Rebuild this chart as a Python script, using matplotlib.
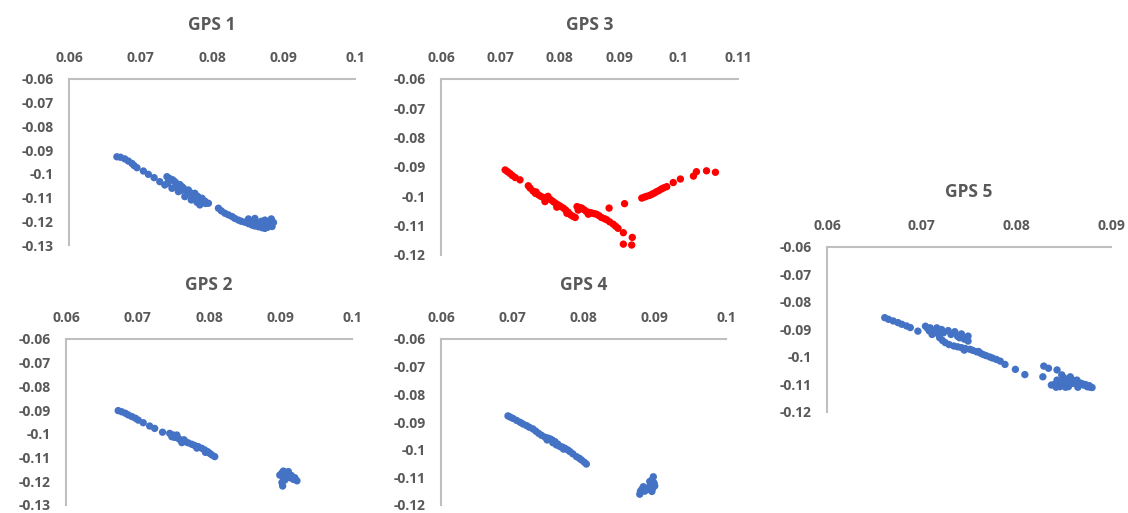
import matplotlib
matplotlib.use("Agg")
from matplotlib import pyplot as plt
from matplotlib.ticker import FuncFormatter

# ---- data (x, y) ----
gps1_x = [0.0667, 0.0672, 0.0678, 0.0683, 0.0688, 0.0691, 0.0695, 0.0704, 0.0711, 0.0719,
          0.0727, 0.0737, 0.0739, 0.0741, 0.0745, 0.0748, 0.0750, 0.0755, 0.0758, 0.0760,
          0.0765, 0.0767, 0.0770, 0.0775, 0.0776, 0.0780, 0.0785, 0.0786, 0.0790, 0.0791,
          0.0795, 0.0783, 0.0779, 0.0771, 0.0766, 0.0762, 0.0757, 0.0753, 0.0749, 0.0744,
          0.0738, 0.0734,
          0.0809, 0.0813, 0.0818, 0.0823, 0.0828, 0.0832, 0.0837, 0.0841, 0.0846, 0.0851,
          0.0856, 0.0860, 0.0865, 0.0870, 0.0874, 0.0878, 0.0883, 0.0883, 0.0874, 0.0860,
          0.0851, 0.0865, 0.0879, 0.0856, 0.0869, 0.0880, 0.0886, 0.0870, 0.0884]
gps1_y = [-0.0928, -0.0930, -0.0937, -0.0946, -0.0956, -0.0965, -0.0974, -0.0988, -0.1002, -0.1016,
          -0.1033, -0.1012, -0.1033, -0.1020, -0.1025, -0.1033, -0.1040, -0.1045, -0.1054, -0.1060,
          -0.1075, -0.1068, -0.1080, -0.1095, -0.1082, -0.1095, -0.1115, -0.1103, -0.1115, -0.1125,
          -0.1124, -0.1131, -0.1120, -0.1110, -0.1085, -0.1096, -0.1070, -0.1075, -0.1055, -0.1061,
          -0.1040, -0.1047,
          -0.1145, -0.1156, -0.1166, -0.1173, -0.1180, -0.1188, -0.1195, -0.1200, -0.1204, -0.1210,
          -0.1216, -0.1220, -0.1223, -0.1227, -0.1230, -0.1225, -0.1216, -0.1190, -0.1195, -0.1188,
          -0.1190, -0.1209, -0.1209, -0.1200, -0.1200, -0.1200, -0.1205, -0.1213, -0.1222]

gps2_x = [0.0673, 0.0678, 0.0683, 0.0687, 0.0692, 0.0697, 0.0701, 0.0708, 0.0717, 0.0724,
          0.0735, 0.0745, 0.0748, 0.0750, 0.0752, 0.0755, 0.0757, 0.0760, 0.0762, 0.0765,
          0.0767, 0.0771, 0.0776, 0.0780, 0.0783, 0.0785, 0.0790, 0.0794, 0.0795, 0.0798,
          0.0801, 0.0804, 0.0808,
          0.0904, 0.0899, 0.0909, 0.0918, 0.0923, 0.0903, 0.0906, 0.0911, 0.0902, 0.0907,
          0.0913, 0.0920, 0.0915, 0.0904, 0.0902]
gps2_y = [-0.0902, -0.0907, -0.0913, -0.0920, -0.0927, -0.0934, -0.0942, -0.0953, -0.0967, -0.0977,
          -0.0993, -0.0998, -0.1012, -0.1005, -0.1015, -0.1005, -0.1019, -0.1026, -0.1037, -0.1025,
          -0.1033, -0.1038, -0.1044, -0.1049, -0.1060, -0.1054, -0.1061, -0.1068, -0.1078, -0.1075,
          -0.1082, -0.1089, -0.1096,
          -0.1157, -0.1174, -0.1181, -0.1192, -0.1198, -0.1220, -0.1195, -0.1159, -0.1165, -0.1170,
          -0.1185, -0.1185, -0.1175, -0.1185, -0.1205]

gps3_x = [0.0708, 0.0712, 0.0716, 0.0720, 0.0725, 0.0733, 0.0747, 0.0750, 0.0755, 0.0759,
          0.0760, 0.0764, 0.0768, 0.0772, 0.0775, 0.0776, 0.0780, 0.0780, 0.0785, 0.0789,
          0.0793, 0.0795, 0.0797, 0.0801, 0.0806, 0.0810, 0.0812, 0.0814, 0.0818, 0.0822,
          0.0826, 0.0829, 0.0831, 0.0833, 0.0837, 0.0841, 0.0845, 0.0848, 0.0850, 0.0854,
          0.0858, 0.0862, 0.0866, 0.0870, 0.0875, 0.0879, 0.0884, 0.0890, 0.0894, 0.0898,
          0.0907, 0.0922, 0.0907, 0.0921, 0.0883, 0.0909, 0.0938, 0.0942, 0.0946, 0.0951,
          0.0955, 0.0959, 0.0963, 0.0967, 0.0971, 0.0975, 0.0980, 0.0991, 0.1003, 0.1025,
          0.1030, 0.1047, 0.1062]
gps3_y = [-0.0910, -0.0916, -0.0922, -0.0929, -0.0936, -0.0944, -0.0964, -0.0972, -0.0982, -0.0990,
          -0.0985, -0.0995, -0.1000, -0.1004, -0.1018, -0.1005, -0.1006, -0.1000, -0.1012, -0.1018,
          -0.1024, -0.1037, -0.1029, -0.1034, -0.1040, -0.1047, -0.1058, -0.1054, -0.1063, -0.1068,
          -0.1072, -0.1035, -0.1047, -0.1038, -0.1040, -0.1046, -0.1052, -0.1061, -0.1055, -0.1057,
          -0.1059, -0.1061, -0.1066, -0.1072, -0.1076, -0.1080, -0.1087, -0.1095, -0.1102, -0.1109,
          -0.1124, -0.1140, -0.1163, -0.1166, -0.1040, -0.1025, -0.1006, -0.1003, -0.1000, -0.0997,
          -0.0993, -0.0989, -0.0984, -0.0980, -0.0975, -0.0971, -0.0967, -0.0953, -0.0941, -0.0931,
          -0.0916, -0.0913, -0.0918]

gps4_x = [0.0694, 0.0697, 0.0701, 0.0706, 0.0711, 0.0715, 0.0720, 0.0724, 0.0729, 0.0733,
          0.0737, 0.0741, 0.0746, 0.0749, 0.0750, 0.0753, 0.0756, 0.0757, 0.0760, 0.0762,
          0.0764, 0.0767, 0.0770, 0.0772, 0.0774, 0.0778, 0.0781, 0.0785, 0.0790, 0.0794,
          0.0797, 0.0801, 0.0804,
          0.0898, 0.0893, 0.0900, 0.0891, 0.0882, 0.0879, 0.0884, 0.0896, 0.0896, 0.0899,
          0.0894, 0.0888, 0.0880, 0.0897, 0.0886]
gps4_y = [-0.0878, -0.0882, -0.0887, -0.0894, -0.0901, -0.0907, -0.0913, -0.0919, -0.0925, -0.0933,
          -0.0941, -0.0948, -0.0955, -0.0965, -0.0958, -0.0961, -0.0965, -0.0975, -0.0971, -0.0983,
          -0.0980, -0.0989, -0.0990, -0.0998, -0.0995, -0.1001, -0.1007, -0.1015, -0.1025, -0.1031,
          -0.1037, -0.1045, -0.1052,
          -0.1098, -0.1115, -0.1131, -0.1143, -0.1143, -0.1161, -0.1134, -0.1151, -0.1110, -0.1120,
          -0.1125, -0.1140, -0.1150, -0.1140, -0.1150]

gps5_x = [0.0661, 0.0665, 0.0670, 0.0675, 0.0679, 0.0684, 0.0688, 0.0696, 0.0704, 0.0706,
          0.0708, 0.0709, 0.0711, 0.0713, 0.0716, 0.0717, 0.0721, 0.0723, 0.0728, 0.0731,
          0.0735, 0.0738, 0.0742, 0.0745, 0.0749, 0.0749, 0.0740, 0.0719, 0.0722, 0.0725,
          0.0729, 0.0734, 0.0738, 0.0742, 0.0745, 0.0746, 0.0751, 0.0754, 0.0758, 0.0760,
          0.0762, 0.0765, 0.0768, 0.0772, 0.0775, 0.0779, 0.0783, 0.0788, 0.0799, 0.0809,
          0.0829, 0.0834, 0.0828, 0.0843, 0.0848, 0.0837, 0.0850, 0.0860, 0.0871, 0.0880,
          0.0857, 0.0864, 0.0843, 0.0853, 0.0875, 0.0846, 0.0840, 0.0845, 0.0855, 0.0865,
          0.0875, 0.0868, 0.0860, 0.0850, 0.0873, 0.0878, 0.0855, 0.0865, 0.0842, 0.0852,
          0.0862, 0.0870, 0.0877, 0.0858, 0.0849]
gps5_y = [-0.0857, -0.0863, -0.0869, -0.0875, -0.0881, -0.0887, -0.0893, -0.0906, -0.0888, -0.0895,
          -0.0905, -0.0894, -0.0918, -0.0905, -0.0894, -0.0915, -0.0900, -0.0912, -0.0904, -0.0918,
          -0.0908, -0.0925, -0.0916, -0.0935, -0.0924, -0.0942, -0.0930, -0.0930, -0.0940, -0.0948,
          -0.0955, -0.0960, -0.0963, -0.0966, -0.0975, -0.0969, -0.0972, -0.0976, -0.0981, -0.0980,
          -0.0986, -0.0991, -0.0995, -0.1000, -0.1004, -0.1009, -0.1015, -0.1027, -0.1045, -0.1064,
          -0.1033, -0.1041, -0.1072, -0.1047, -0.1065, -0.1102, -0.1102, -0.1096, -0.1102, -0.1111,
          -0.1072, -0.1084, -0.1084, -0.1087, -0.1107, -0.1108, -0.1100, -0.1095, -0.1100, -0.1102,
          -0.1108, -0.1095, -0.1085, -0.1075, -0.1100, -0.1110, -0.1108, -0.1110, -0.1110, -0.1110,
          -0.1091, -0.1098, -0.1104, -0.1080, -0.1090]

BLUE = "#4472C4"
RED = "#FF0000"
TEXT = "#595959"
AXIS = "#BFBFBF"

W, H = 1128, 513

# title, x data, y data, colour, x range, y range, axes box in pixels (left, top, right, bottom), title y
panels = [
    ("GPS 1", gps1_x, gps1_y, BLUE, (0.06, 0.10), (-0.13, -0.06), (69, 79, 355, 245), 25),
    ("GPS 3", gps3_x, gps3_y, RED, (0.06, 0.11), (-0.12, -0.06), (441, 79, 738, 255), 25),
    ("GPS 2", gps2_x, gps2_y, BLUE, (0.06, 0.10), (-0.13, -0.06), (66, 339, 352, 505), 285),
    ("GPS 4", gps4_x, gps4_y, BLUE, (0.06, 0.10), (-0.12, -0.06), (441, 339, 726, 505), 285),
    ("GPS 5", gps5_x, gps5_y, BLUE, (0.06, 0.09), (-0.12, -0.06), (827, 247, 1111, 412), 192),
]

plt.rcParams["font.family"] = ["Open Sans", "DejaVu Sans"]
plt.rcParams["font.weight"] = "bold"

fig = plt.figure(figsize=(W / 100, H / 100), dpi=100)


def excel_fmt(v, _pos):
    return f"{round(v, 4):g}"


for title, xs, ys, color, xr, yr, box, title_y in panels:
    l, t, r, b = box
    ax = fig.add_axes([l / W, 1 - b / H, (r - l) / W, (b - t) / H])
    ax.scatter(xs, ys, s=28, color=color, edgecolors="none", clip_on=False)
    ax.set_xlim(*xr)
    ax.set_ylim(*yr)
    nx = int(round((xr[1] - xr[0]) / 0.01))
    ny = int(round((yr[1] - yr[0]) / 0.01))
    ax.set_xticks([xr[0] + i * 0.01 for i in range(nx + 1)])
    ax.set_yticks([yr[0] + i * 0.01 for i in range(ny + 1)])
    ax.xaxis.set_major_formatter(FuncFormatter(excel_fmt))
    ax.yaxis.set_major_formatter(FuncFormatter(excel_fmt))
    ax.xaxis.tick_top()
    ax.tick_params(length=0, colors=TEXT, labelsize=10)
    ax.tick_params(axis="x", pad=10)
    ax.tick_params(axis="y", pad=11)
    for side in ("right", "bottom"):
        ax.spines[side].set_visible(False)
    for side in ("top", "left"):
        ax.spines[side].set_color(AXIS)
        ax.spines[side].set_linewidth(1.5)
    ax.patch.set_alpha(0)
    fig.text((l + r) / 2 / W, 1 - title_y / H, title, ha="center", va="center",
             fontsize=12.5, fontweight="bold", color=TEXT)

fig.savefig("out.png", dpi=100)
